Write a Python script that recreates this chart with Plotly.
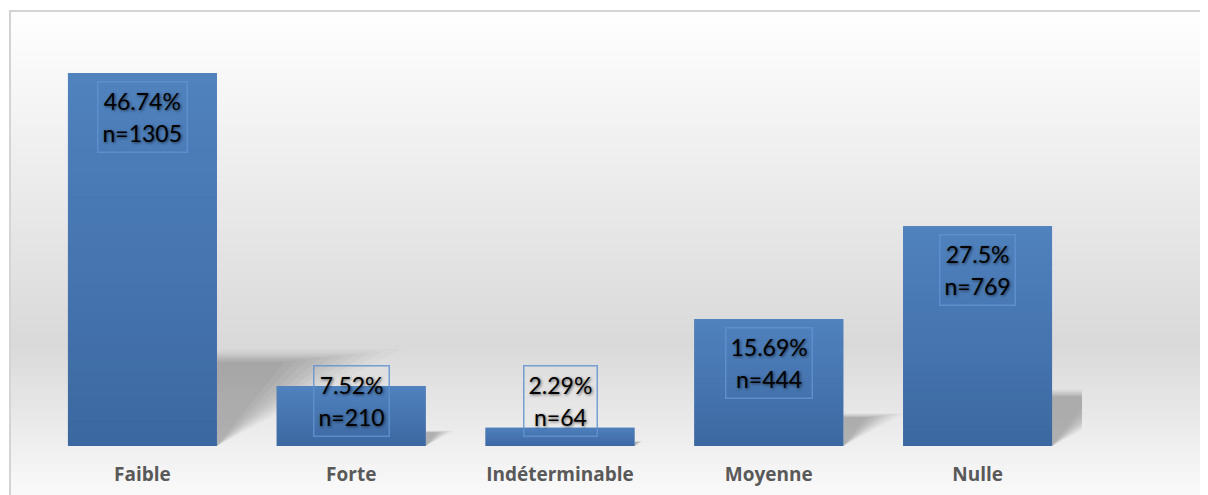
import plotly.graph_objects as go

categories = ["Faible", "Forte", "Indéterminable", "Moyenne", "Nulle"]
counts = [1305, 210, 64, 444, 769]
percents = ["46.74", "7.52", "2.29", "15.69", "27.5"]

# ---- layout geometry (figure pixels; page has an 8px body offset) ----
W, H = 1208, 495
OFF = 8
ML, MR, MT, MB = 30, 134, 22, 57
PLOT_W = W - ML - MR
PLOT_H = H - MT - MB
YMAX = 1455.0
PPU = PLOT_H / YMAX              # pixels per count unit
CAT_PX = PLOT_W / len(categories)
BAR_FRAC = 0.713

BAR_TOP = (80, 130, 191)
BAR_BOT = (60, 104, 160)
LABEL_FONT = "Lato"


def px_to_paper_x(px):
    return (px - OFF - ML) / PLOT_W


def px_to_paper_y(py):
    return (H - MB - (py - OFF)) / PLOT_H


def lerp(a, b, t):
    return int(round(a + (b - a) * t))


fig = go.Figure()
fig.add_trace(go.Bar(
    x=categories, y=counts,
    marker=dict(color="#4674b2", line=dict(width=0)),
    hoverinfo="skip",
))

shapes = []
# background gradient (white -> light grey -> near white)
y_top, y_dark, y_bot = 12, 345, 505
step = 3
py = y_top
while py < y_bot:
    mid = py + step / 2
    if mid <= y_dark:
        t = (mid - y_top) / (y_dark - y_top)
        g = lerp(255, 217, t)
    else:
        t = (mid - y_dark) / (y_bot - y_dark)
        g = lerp(217, 252, t)
    shapes.append(dict(
        type="rect", xref="paper", yref="paper", layer="below",
        x0=px_to_paper_x(11), x1=px_to_paper_x(1260),
        y0=px_to_paper_y(py), y1=px_to_paper_y(py + step + 0.6),
        fillcolor=f"rgb({g},{g},{g})", line=dict(width=0),
    ))
    py += step

# chart frame (left and top edges visible)
fx0, fy0 = px_to_paper_x(10), px_to_paper_y(11)
fx1, fy1 = px_to_paper_x(1300), px_to_paper_y(560)
shapes.append(dict(
    type="path", xref="paper", yref="paper", layer="below",
    path=f"M {fx0},{fy1} L {fx0},{fy0} L {fx1},{fy0}",
    line=dict(color="#d4d4d4", width=2),
))

# soft perspective shadows to the right of each bar
half = BAR_FRAC / 2
layers = [(1.55, 0.025), (1.4, 0.03), (1.28, 0.035), (1.16, 0.04), (1.06, 0.045),
          (0.96, 0.05), (0.86, 0.05), (0.76, 0.05), (0.66, 0.05), (0.56, 0.05)]
for i, v in enumerate(counts):
    top = 0.24 * v
    dx = 0.32 * v * PPU / CAT_PX
    xr = i + half
    for grow, op in layers:
        t_ = top * (0.85 + 0.15 * grow)
        d_ = dx * grow
        path = f"M {xr},0 L {xr},{t_} L {xr + d_},{t_} Z"
        shapes.append(dict(
            type="path", xref="x", yref="y", layer="below", path=path,
            fillcolor="rgb(70,70,70)", opacity=op, line=dict(width=0),
        ))

# vertical gradient shading on each bar (drawn over the bar trace)
NSTRIP = 30
for i, v in enumerate(counts):
    for k in range(NSTRIP):
        t = (k + 0.5) / NSTRIP   # 0 = bottom, 1 = top
        col = tuple(lerp(BAR_BOT[j], BAR_TOP[j], t) for j in range(3))
        shapes.append(dict(
            type="rect", xref="x", yref="y", layer="above",
            x0=i - half, x1=i + half,
            y0=v * k / NSTRIP, y1=min(v, v * (k + 1) / NSTRIP + v * 0.004),
            fillcolor=f"rgb{col}", line=dict(width=0),
        ))

# data labels
annotations = []
for i, (c, v, p) in enumerate(zip(categories, counts, percents)):
    box_px = 78
    clamp = v * PPU < 8 + box_px + 9
    ann = dict(
        x=c, y=0 if clamp else v, xref="x", yref="y",
        text=(f"<span style='font-size:23px'>{p}%</span><br>"
              f"<span style='font-size:23px'>n={v}</span>"),
        showarrow=False,
        yanchor="bottom" if clamp else "top",
        yshift=9 if clamp else -8,
        font=dict(family=LABEL_FONT, size=25, color="#000000",
                  shadow="1px 1px 3px rgba(0,0,0,0.6)"),
        bordercolor="rgba(98,146,208,0.85)", borderwidth=1.5, borderpad=4,
        bgcolor="rgba(0,0,0,0)",
    )
    annotations.append(ann)

fig.update_layout(
    width=W, height=H,
    margin=dict(l=ML, r=MR, t=MT, b=MB, autoexpand=False),
    paper_bgcolor="white", plot_bgcolor="rgba(0,0,0,0)",
    bargap=1 - BAR_FRAC,
    showlegend=False,
    shapes=shapes, annotations=annotations,
    xaxis=dict(
        type="category", range=[-0.5, len(categories) - 0.5],
        showgrid=False, zeroline=False, showline=False, ticks="",
        tickfont=dict(family="Open Sans", size=19, color="#595959", weight="bold"),
        ticklabelstandoff=15,
    ),
    yaxis=dict(range=[0, YMAX], visible=False, showgrid=False, zeroline=False),
)

fig.write_html("out.html")
